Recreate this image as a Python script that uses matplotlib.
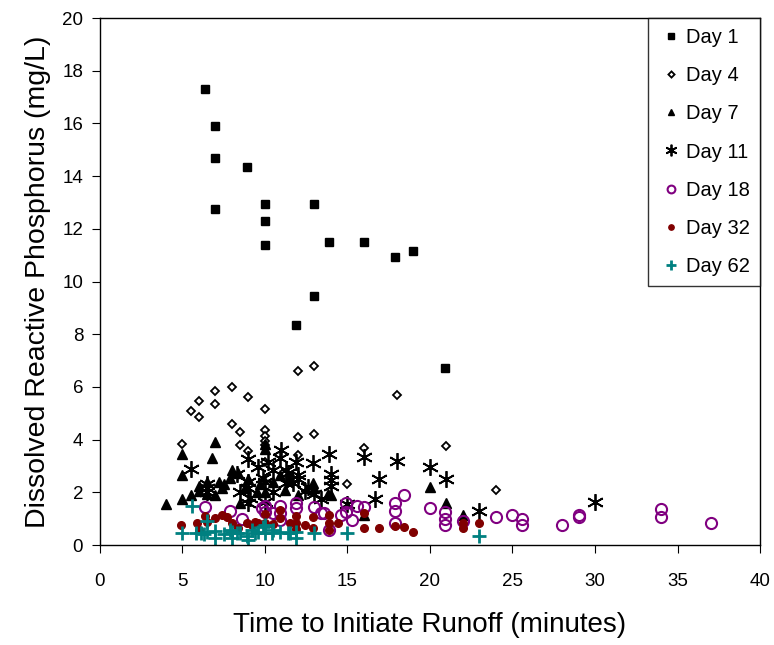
import numpy as np
import matplotlib.pyplot as plt

plt.rcParams['font.family'] = ['Liberation Sans', 'DejaVu Sans']

# time to initiate runoff (min) and DRP (mg/L) for each sampling day
day1_x = [6.4, 7, 7, 7, 8.9, 10, 10, 10, 13, 13.9, 16, 17.9, 19, 13, 11.9, 20.9]
day1_y = [17.3, 15.9, 14.7, 12.75, 14.35, 12.95, 12.3, 11.4, 12.95, 11.5, 11.5, 10.95, 11.15, 9.45, 8.35, 6.7]

day4_x = [5, 5.5, 6, 6, 7, 7, 8, 8, 8.5, 8.5, 9, 9, 10, 10, 10, 10, 10, 10,
          12, 12, 12, 13, 13, 15, 16, 18, 21, 24]
day4_y = [3.85, 5.1, 5.45, 4.85, 5.85, 5.35, 6.0, 4.6, 4.3, 3.8, 5.6, 3.55, 5.15, 4.35, 4.15, 3.95, 3.8, 3.15,
          6.6, 4.1, 3.4, 6.8, 4.2, 2.3, 3.7, 5.7, 3.75, 2.1]

day7_x = [4, 5, 5, 5, 5.5, 6, 6, 6.5, 6.5, 6.8, 7, 7, 7.2, 7.4, 7.5, 7.9, 8, 8.4, 8.5, 8.8,
          9, 9.5, 9.7, 10, 10, 10, 10.5, 10.9, 11.2, 11.5, 12, 12.9, 13, 13.8, 14, 16, 20, 21, 22]
day7_y = [1.55, 3.45, 2.65, 1.75, 1.9, 2.25, 2.05, 2.4, 1.95, 3.3, 3.9, 1.9, 2.4, 2.15, 2.3, 2.55, 2.85, 2.72, 1.6, 2.15,
          2.5, 2.0, 2.3, 3.85, 3.65, 2.0, 2.4, 2.65, 2.1, 2.5, 1.9, 2.35, 2.15, 1.95, 1.9, 1.15, 2.2, 1.6, 1.15]

day11_x = [5.5, 6.5, 6.5, 6.5, 8.3, 8.5, 9, 9, 9, 9, 9.1, 9.6, 9.9, 10, 10, 10.2, 10.5, 10.5, 10.9, 11,
           11.3, 11.3, 11.4, 11.7, 11.9, 12, 12, 12.4, 12.6, 12.9, 13, 13.4, 13.9, 14, 14, 14, 15, 16,
           16.7, 16.9, 18, 20, 21, 23, 30]
day11_y = [2.9, 2.3, 2.15, 2.0, 2.7, 2.0, 3.25, 2.4, 2.15, 1.6, 1.8, 2.95, 2.55, 2.4, 1.65, 3.15, 2.85, 2.0, 3.3, 3.6,
           2.85, 2.35, 2.75, 2.35, 3.15, 2.65, 2.5, 2.05, 2.2, 3.1, 1.95, 1.75, 3.45, 2.7, 2.45, 2.25, 1.55, 3.35,
           1.75, 2.5, 3.2, 2.95, 2.5, 1.3, 1.65]

day18_x = [6.4, 7.9, 8.6, 9.8, 10, 10, 10.5, 10.9, 10.9, 10.9, 11.9, 11.9, 13, 13.4, 13.6, 13.9, 14.6, 14.9,
           14.9, 15.3, 15.6, 16, 17.9, 17.9, 17.9, 18.4, 20, 20.9, 20.9, 20.9, 22, 24, 25, 25.6, 25.6, 28,
           29, 29, 34, 34, 37]
day18_y = [1.45, 1.3, 0.99, 1.39, 1.5, 1.26, 1.2, 1.5, 1.2, 0.95, 1.58, 1.39, 1.45, 1.2, 1.2, 0.57, 1.14, 1.58,
           1.26, 0.95, 1.5, 1.45, 1.58, 1.3, 0.85, 1.9, 1.39, 1.26, 1.0, 0.76, 0.92, 1.05, 1.14, 0.99, 0.76, 0.76,
           1.14, 1.05, 1.35, 1.05, 0.83]

day32_x = [4.9, 5.9, 6, 6.4, 6.5, 7, 7.4, 7.7, 8, 8.4, 8.9, 9.2, 9.4, 9.6, 10, 10, 10.5, 10.9, 10.9, 11.5,
           11.9, 11.9, 11.9, 12.4, 12.9, 12.9, 13.9, 13.9, 13.9, 14.4, 16, 16, 16.9, 17.9, 18.4, 19, 22, 22, 23]
day32_y = [0.76, 0.82, 0.57, 1.1, 0.88, 1.04, 1.14, 1.07, 0.82, 0.66, 0.85, 0.76, 0.88, 0.82, 1.17, 0.82, 0.8,
           1.33, 1.01, 0.82, 1.1, 0.82, 0.6, 0.76, 1.07, 0.66, 1.14, 0.82, 0.57, 0.82, 0.63, 1.2, 0.63, 0.72,
           0.69, 0.48, 0.82, 0.63, 0.82]

day62_x = [5, 5.6, 5.8, 6.1, 6.3, 6.5, 6.5, 7, 7, 7.5, 7.9, 8, 8, 8.3, 8.5, 8.9, 9, 9.2, 9.4, 9.6, 9.9,
           10, 10, 10.4, 10.5, 10.9, 11.4, 11.5, 11.9, 11.9, 13, 15, 23]
day62_y = [0.47, 1.5, 0.44, 0.44, 0.41, 0.9, 0.5, 0.52, 0.28, 0.4, 0.57, 0.5, 0.25, 0.44, 0.44, 0.36, 0.19,
           0.57, 0.44, 0.5, 0.69, 0.76, 0.44, 0.47, 0.57, 0.5, 0.44, 0.44, 0.5, 0.25, 0.44, 0.44, 0.35]

fig = plt.figure(figsize=(7.74, 6.45), dpi=100)
ax = fig.add_axes([0.129, 0.155, 0.853, 0.817])

ax.plot(day1_x, day1_y, 's', ms=5.5, color='black', label='Day 1', ls='none')
ax.plot(day4_x, day4_y, 'D', ms=4.5, mfc='white', mec='black', mew=1.3, label='Day 4', ls='none')
ax.plot(day7_x, day7_y, '^', ms=7, color='black', label='Day 7', ls='none')
ax.plot(day11_x, day11_y, marker=(6, 2, 0), ms=12, color='black', mew=1.3, label='Day 11', ls='none')
ax.plot(day18_x, day18_y, 'o', ms=8, mfc='none', mec='#800080', mew=1.5, label='Day 18', ls='none')
ax.plot(day32_x, day32_y, 'o', ms=5.5, color='#800000', label='Day 32', ls='none')
ax.plot(day62_x, day62_y, '+', ms=10, color='#008080', mew=2, label='Day 62', ls='none')

ax.set_xlim(0, 40)
ax.set_ylim(0, 20)
ax.set_xticks(np.arange(0, 41, 5))
ax.set_yticks(np.arange(0, 21, 2))
ax.tick_params(direction='out', length=6, labelsize=13.5)
ax.tick_params(axis='x', pad=14)
ax.tick_params(axis='y', pad=6)
for s in ax.spines.values():
    s.set_linewidth(1)
ax.set_xlabel('Time to Initiate Runoff (minutes)', fontsize=20, labelpad=16)
ax.set_ylabel('Dissolved Reactive Phosphorus (mg/L)', fontsize=20.5, labelpad=8)

leg = ax.legend(loc='upper right', fontsize=14.5, frameon=True, fancybox=False, edgecolor='black',
                borderaxespad=0, handletextpad=0.1, labelspacing=0.95, handlelength=1.3,
                markerscale=0.7, borderpad=0.5)
leg.get_frame().set_linewidth(1)

fig.savefig('out.png', dpi=100)
